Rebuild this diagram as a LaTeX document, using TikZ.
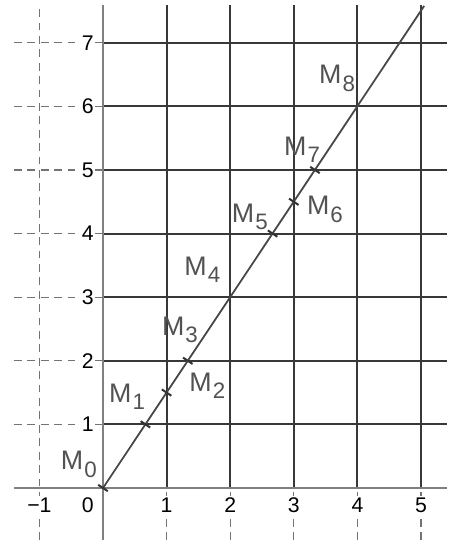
\documentclass[tikz,border=0pt]{standalone}
\usepackage{fontspec}
\setmainfont{Liberation Sans}
\usetikzlibrary{calc}
\newcommand{\Msub}[1]{M\kern0.5pt\raisebox{-3.2pt}{\fontsize{10}{10}\selectfont #1}}
\begin{document}
\begin{tikzpicture}[x=1cm,y=1cm,
  axisline/.style={draw=black!50, line width=0.7pt},
  gridline/.style={draw=black!78, line width=0.9pt},
  outdash/.style={draw=black!55, line width=0.55pt, dash pattern=on 3.5pt off 2.5pt},
  ticklab/.style={font=\fontsize{9.5}{10}\selectfont, fill=white, inner sep=0.8pt, text=black},
  ptlab/.style={font=\fontsize{12}{12}\selectfont, text=black!68, inner sep=0pt},
  mainline/.style={draw=black!72, line width=0.8pt},
  tickmark/.style={draw=black!80, line width=0.9pt}
]
\useasboundingbox (-1.62,-0.818) rectangle (5.55,7.673);
% outer dashed lines
\draw[outdash] (-1,-0.818) -- (-1,7.59);
\foreach \y in {1,...,7} \draw[outdash] (-1.40,\y) -- (0,\y);
\foreach \x in {1,...,5} \draw[outdash] (\x,-0.818) -- (\x,0);
% grid in the quadrant
\foreach \x in {1,...,5} \draw[gridline] (\x,0) -- (\x,7.59);
\foreach \y in {1,...,7} \draw[gridline] (0,\y) -- (5.41,\y);
% axes
\draw[axisline] (-1.40,0) -- (5.41,0);
\draw[axisline] (0,-0.818) -- (0,7.59);
% tick labels
\node[ticklab] (xl0) at (-0.24,-0.27) {0};
\node[ticklab] (xlm1) at (-1,-0.27) {−1};
\foreach \x in {1,...,5} \node[ticklab] (xl\x) at (\x,-0.27) {\x};
\foreach \y in {1,...,7} \node[ticklab] (yl\y) at (-0.24,\y) {\y};
% main line
\coordinate (O) at (0,0);
\coordinate (E) at (5.05,7.58);
\draw[mainline] (O) -- (E);
% points
\foreach \n/\px/\py in {0/0/0, 1/0.6667/1, 2/1/1.5, 3/1.3333/2, 4/2/3, 5/2.6667/4, 6/3/4.5, 7/3.3333/5, 8/4/6}
  \coordinate (P\n) at (\px,\py);
\foreach \n in {0,1,2,3,5,6,7}
  \draw[tickmark] ($(P\n)+(-0.075,0.05)$) -- ($(P\n)+(0.075,-0.05)$);
% labels
\node[ptlab] (L0) at (-0.38,0.37) {\Msub{0}};
\node[ptlab] (L1) at (0.38,1.43) {\Msub{1}};
\node[ptlab] (L2) at (1.64,1.61) {\Msub{2}};
\node[ptlab] (L3) at (1.21,2.49) {\Msub{3}};
\node[ptlab] (L4) at (1.56,3.43) {\Msub{4}};
\node[ptlab] (L5) at (2.31,4.26) {\Msub{5}};
\node[ptlab] (L6) at (3.49,4.38) {\Msub{6}};
\node[ptlab] (L7) at (3.13,5.32) {\Msub{7}};
\node[ptlab] (L8) at (3.68,6.44) {\Msub{8}};
\end{tikzpicture}
\end{document}
